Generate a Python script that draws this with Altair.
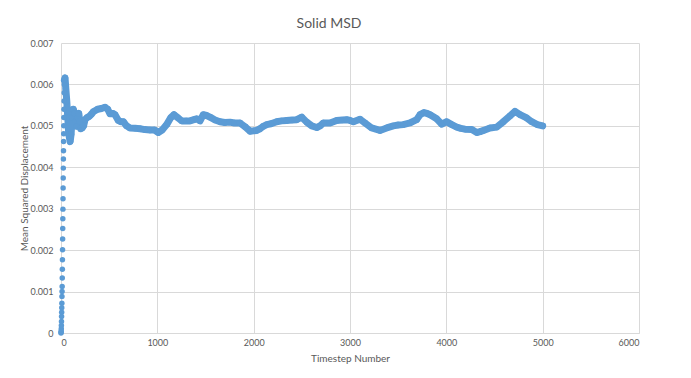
import altair as alt
import pandas as pd

# Initial rise (one point per timestep)
rise_t = list(range(0, 36))
rise_y = [0, 0.00002, 0.00005, 0.0001, 0.00018, 0.00028, 0.0004, 0.0005, 0.00061, 0.00072,
          0.00088, 0.001, 0.00112, 0.00133, 0.00154, 0.00177, 0.00201, 0.00227, 0.00252, 0.00276,
          0.00299, 0.00324, 0.0035, 0.00374, 0.00398, 0.0042, 0.0044, 0.00462, 0.00481, 0.005,
          0.0052, 0.0054, 0.0056, 0.0058, 0.006, 0.0061]

# Main trace after the spike
band_t = [35, 42, 50, 60, 70, 80, 95, 105, 115, 128, 140, 150, 163, 175, 185, 195, 205, 220, 235, 249,
          270, 294, 315, 335, 380, 420, 457, 485, 509, 540, 561, 595, 620, 647, 680, 716, 770, 820, 870, 924,
          970, 1010, 1050, 1097, 1140, 1173, 1210, 1253, 1300, 1339, 1380, 1408, 1443, 1477, 1510, 1547, 1600,
          1651, 1700, 1754, 1800, 1858, 1910, 1962, 2000, 2031, 2066, 2100, 2135, 2180, 2239, 2290, 2343,
          2400, 2447, 2499, 2551, 2603, 2655, 2690, 2724, 2793, 2862, 2920, 2966, 3000, 3035, 3104, 3156,
          3225, 3311, 3381, 3450, 3500, 3553, 3623, 3692, 3727, 3768, 3800, 3831, 3900, 3952, 4004, 4056,
          4108, 4150, 4194, 4264, 4316, 4350, 4385, 4454, 4523, 4592, 4661, 4713, 4765, 4834, 4886, 4945, 5000]
band_y = [0.0061, 0.00616, 0.0059, 0.0056, 0.0052, 0.0048, 0.00462, 0.0048, 0.0052, 0.0054, 0.0053, 0.0051,
          0.00499, 0.0052, 0.0053, 0.0051, 0.00493, 0.00495, 0.005, 0.00515, 0.0052, 0.00523, 0.00528, 0.00534,
          0.0054, 0.00542, 0.00545, 0.0054, 0.00529, 0.0053, 0.00527, 0.00513, 0.0051, 0.0051, 0.005, 0.00495,
          0.00494, 0.00493, 0.00491, 0.0049, 0.0049, 0.00484, 0.0049, 0.00503, 0.0052, 0.00527, 0.0052, 0.00512,
          0.00512, 0.00512, 0.00515, 0.00517, 0.00512, 0.00527, 0.00525, 0.00521, 0.00514, 0.0051, 0.00508,
          0.00509, 0.00507, 0.00507, 0.00498, 0.00487, 0.00488, 0.00489, 0.00493, 0.00499, 0.00503, 0.00505,
          0.0051, 0.00512, 0.00513, 0.00514, 0.00515, 0.00521, 0.00509, 0.005, 0.00496, 0.005, 0.00507, 0.00507,
          0.00513, 0.00514, 0.00515, 0.00513, 0.0051, 0.00516, 0.00507, 0.00495, 0.00489, 0.00495, 0.005,
          0.00502, 0.00503, 0.00507, 0.00515, 0.00527, 0.00532, 0.0053, 0.00527, 0.00517, 0.00504, 0.0051,
          0.00503, 0.00497, 0.00494, 0.00492, 0.00491, 0.00484, 0.00486, 0.00489, 0.00495, 0.00497, 0.0051,
          0.00524, 0.00535, 0.00527, 0.00519, 0.0051, 0.00503, 0.005]

x_ticks = [0, 1000, 2000, 3000, 4000, 5000, 6000]
y_ticks = [0, 0.001, 0.002, 0.003, 0.004, 0.005, 0.006, 0.007]

BLUE = "#5b9bd5"
FONT = "Lato"

rise = pd.DataFrame({"t": rise_t, "msd": rise_y})
band = pd.DataFrame({"t": band_t, "msd": band_y})

xenc = alt.X("t:Q", scale=alt.Scale(domain=[0, 6000], nice=False),
             axis=alt.Axis(values=x_ticks, title="Timestep Number", format="d"))
yenc = alt.Y("msd:Q", scale=alt.Scale(domain=[0, 0.007], nice=False),
             axis=alt.Axis(values=y_ticks, title="Mean Squared Displacement", format="~g"))

line = alt.Chart(band).mark_line(color=BLUE, strokeWidth=7, strokeCap="round", strokeJoin="round").encode(
    x=xenc, y=yenc, order="t:Q")
pts_band = alt.Chart(band).mark_circle(color=BLUE, size=40, opacity=1).encode(x=xenc, y=yenc)
pts_rise = alt.Chart(rise).mark_circle(color=BLUE, size=30, opacity=1).encode(x=xenc, y=yenc)

chart = alt.layer(line, pts_band, pts_rise).properties(
    width=578, height=290,
    title=alt.TitleParams("Solid MSD", font=FONT, fontSize=14, fontWeight="normal",
                          color="#595959", dx=-21, offset=8),
    autosize=alt.AutoSizeParams(type="none"),
    padding={"left": 53, "top": 35, "right": 40, "bottom": 40},
).configure_view(stroke=None).configure_axis(
    grid=True, gridColor="#d9d9d9", gridWidth=1, domainColor="#d9d9d9", ticks=False,
    labelFont=FONT, labelFontSize=9, labelColor="#595959",
    titleFont=FONT, titleFontSize=10, titleColor="#595959", titleFontWeight="normal",
).configure_axisX(labelPadding=5, titlePadding=6, domain=True).configure_axisY(
    labelPadding=8, titlePadding=0, domain=False)

chart.save("out.html", embed_options={"renderer": "svg", "actions": False})
